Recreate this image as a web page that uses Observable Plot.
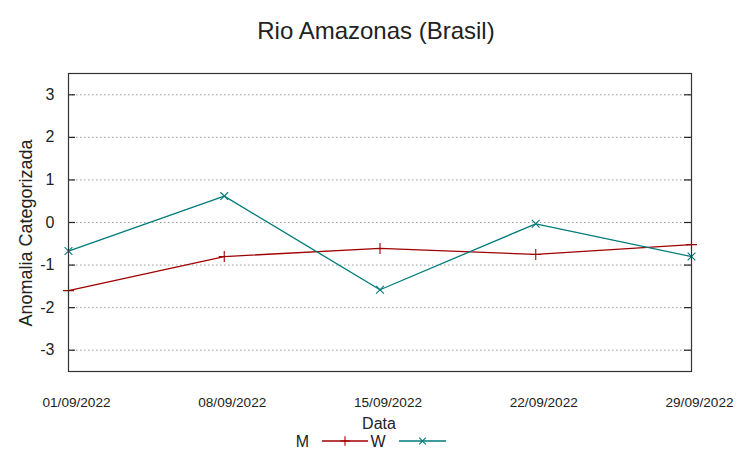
<!DOCTYPE html>
<html><head><meta charset="utf-8">
<script src="https://cdn.jsdelivr.net/npm/d3@7"></script>
<script src="https://cdn.jsdelivr.net/npm/@observablehq/plot@0.6"></script>
<style>
body{margin:0;background:#fff;font-family:"Liberation Sans",Arial,sans-serif;}
#wrap{position:relative;width:752px;height:459px;overflow:hidden;}
</style></head>
<body><div id="wrap"></div>
<script>
const dates = ["2022-09-01","2022-09-08","2022-09-15","2022-09-22","2022-09-29"];
const tickLabels = ["01/09/2022","08/09/2022","15/09/2022","22/09/2022","29/09/2022"];
const seriesM = [-1.6, -0.8, -0.61, -0.75, -0.52];
const seriesW = [-0.67, 0.62, -1.58, -0.03, -0.8];
const yTicks = [-3,-2,-1,0,1,2,3];
const title = "Rio Amazonas (Brasil)";
const yLabel = "Anomalia Categorizada";
const xLabel = "Data";
const names = ["M","W"];
const colors = ["#a00000","#007b7b"];

const parse = d3.utcParse("%Y-%m-%d");
const data = [];
dates.forEach((d,i)=>{
  data.push({date:parse(d), value:seriesM[i], s:"M"});
  data.push({date:parse(d), value:seriesW[i], s:"W"});
});
const W = 752, H = 459, mL = 68, mR = 61, mT = 73, mB = 88;
const pw = W - mL - mR;
const labelMap = new Map(dates.map((d,i)=>[+parse(d), tickLabels[i]]));
const font = "Liberation Sans, Arial, sans-serif";

const chart = Plot.plot({
  width: W, height: H,
  marginLeft: mL, marginRight: mR, marginTop: mT, marginBottom: mB,
  style: {fontFamily: font, background: "#fff", overflow: "visible"},
  x: {type: "utc", domain: [parse(dates[0]), parse(dates[dates.length-1])]},
  y: {domain: [-3.5, 3.5]},
  color: {domain: names, range: colors},
  marks: [
    Plot.ruleY(yTicks, {stroke: "#999", strokeDasharray: "1.5,2.5", strokeWidth: 1}),
    Plot.ruleY(yTicks, {stroke: "#222", strokeWidth: 1.2, insetRight: pw - 7}),
    Plot.ruleY(yTicks, {stroke: "#222", strokeWidth: 1.2, insetLeft: pw - 7}),
    Plot.axisY({ticks: yTicks, tickSize: 0, tickPadding: 14, fontSize: 16, label: null, color: "#222",
      tickFormat: d => String(d)}),
    Plot.axisX({ticks: dates.map(parse), tickSize: 0, tickPadding: 26, fontSize: 13.6, dx: 8, label: null,
      tickFormat: d => labelMap.get(+d), color: "#222"}),
    Plot.line(data, {x: "date", y: "value", z: "s", stroke: "s", strokeWidth: 1.3}),
    Plot.dot(data, {x: "date", y: "value", stroke: "s", symbol: d => d.s === "M" ? "plus" : "times", r: 3.6, strokeWidth: 1.1}),
    Plot.frame({stroke: "#333", strokeWidth: 1.2})
  ]
});
const wrap = document.getElementById("wrap");
chart.style.position = "absolute"; chart.style.left = "0"; chart.style.top = "0";
wrap.appendChild(chart);

const ov = d3.select(wrap).append("svg").attr("width", W).attr("height", H)
  .style("position","absolute").style("left","0").style("top","0")
  .attr("font-family", font).attr("fill", "#222");
ov.append("text").attr("x", 376).attr("y", 30).attr("text-anchor","middle").attr("dominant-baseline","central")
  .attr("font-size", 24).attr("fill","#222").text(title);
ov.append("text").attr("x", 379).attr("y", 423).attr("text-anchor","middle").attr("dominant-baseline","central")
  .attr("font-size", 16).attr("fill","#222").text(xLabel);
ov.append("text").attr("transform","translate(26,233) rotate(-90)").attr("text-anchor","middle").attr("dominant-baseline","central")
  .attr("font-size", 18).attr("fill","#222").text(yLabel);

const legItems = [{name:names[0], tx:302.5, x1:322, x2:368, sym:"plus"},{name:names[1], tx:378, x1:399, x2:446, sym:"times"}];
const ly = 441;
legItems.forEach((it,i)=>{
  ov.append("text").attr("x", it.tx).attr("y", ly).attr("text-anchor","middle").attr("dominant-baseline","central")
    .attr("font-size", 16).attr("fill","#222").text(it.name);
  ov.append("line").attr("x1", it.x1).attr("x2", it.x2).attr("y1", ly).attr("y2", ly).attr("stroke", colors[i]).attr("stroke-width", 1.3);
  const sym = it.sym === "plus" ? d3.symbolPlus : d3.symbolTimes;
  ov.append("path").attr("d", d3.symbol(sym, 30)()).attr("transform", `translate(${(it.x1+it.x2)/2},${ly})`)
    .attr("fill","none").attr("stroke", colors[i]).attr("stroke-width", 1.1);
});
</script></body></html>
